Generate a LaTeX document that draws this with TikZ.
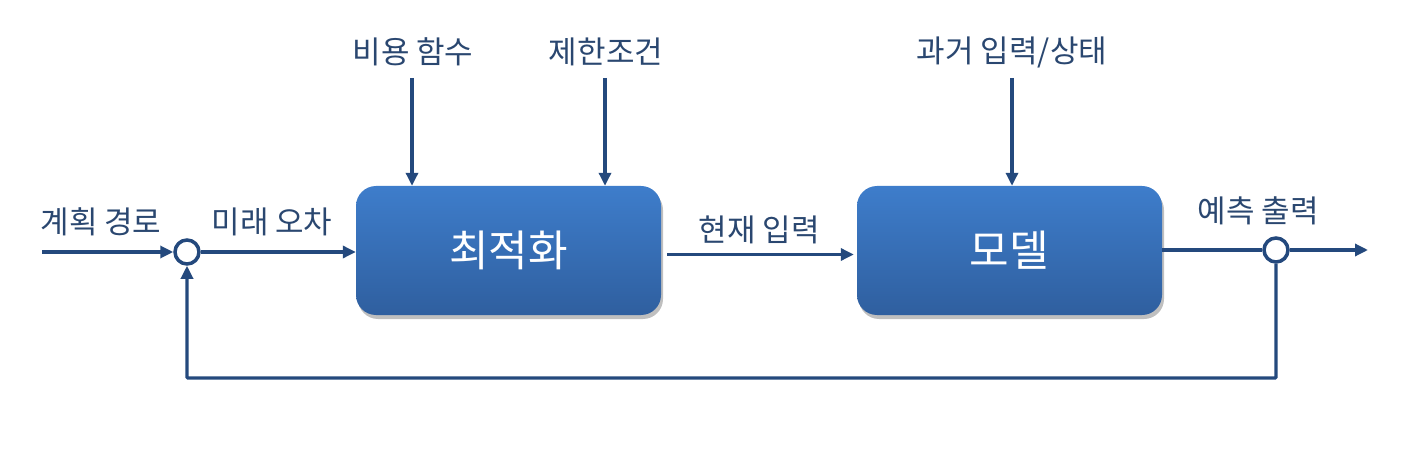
\documentclass[tikz,border=0pt]{standalone}
\usepackage{fontspec}
\setmainfont{Noto Sans CJK KR}
\usetikzlibrary{arrows.meta,shadows,calc}
\definecolor{linec}{HTML}{24497D}
\definecolor{txtc}{HTML}{2A4770}
\definecolor{boxtop}{HTML}{3E7DCB}
\definecolor{boxbot}{HTML}{2F5F9F}
\tikzset{
  blk/.style={draw=none, rounded corners=20pt, minimum width=305pt, minimum height=129pt,
    top color=boxtop, bottom color=boxbot, text=white, font=\fontsize{43}{48}\selectfont,
    drop shadow={shadow xshift=2pt, shadow yshift=-4pt, opacity=0.25, fill=black}},
  lbl/.style={text=txtc, font=\fontsize{31}{36}\selectfont, inner sep=0pt},
  sumj/.style={circle, draw=linec, line width=3.5pt, fill=white, minimum size=24pt, inner sep=0pt},
  conn/.style={draw=linec, line width=3.2pt},
  arr/.style={conn, -{Triangle[length=13pt,width=12pt]}},
}
\begin{document}
\begin{tikzpicture}[x=1pt,y=-1pt]
\useasboundingbox (0,0) rectangle (1418,454);
\node[blk] (opt) at (508.5,250.5) {최적화};
\node[blk] (mdl) at (1009.5,250.5) {모델};
\node[sumj] (s1) at (187,252) {};
\node[sumj] (s2) at (1276,250) {};
\coordinate (in) at (42,252);
\coordinate (out) at (1368,250);
\coordinate (fbR) at (1276,378);
\coordinate (fbL) at (187,378);
\node[lbl] (lcost) at (413,52) {비용 함수};
\node[lbl] (lcons) at (606,52) {제한조건};
\node[lbl] (lpast) at (1012,52) {과거 입력/상태};
\node[lbl] (lplan) at (101,222) {계획 경로};
\node[lbl] (lerr) at (272,222) {미래 오차};
\node[lbl] (lcur) at (759,230) {현재 입력};
\node[lbl] (lpred) at (1258,211) {예측 출력};
\coordinate (c1) at (412,78);
\coordinate (c2) at (605,78);
\coordinate (c3) at (1012,78);
\draw[arr] (in) -- (s1.west);
\draw[arr] (s1.east) -- (opt.west |- s1);
\draw[arr] ($(opt.east)+(6,4)$) -- ($(mdl.west)+(-3,4)$);
\draw[conn] (mdl.east |- s2) -- (s2.west);
\draw[arr] (s2.east) -- (out);
\draw[arr] (c1) -- (c1 |- opt.north);
\draw[arr] (c2) -- (c2 |- opt.north);
\draw[arr] (c3) -- (c3 |- mdl.north);
\draw[arr, rounded corners=1pt] (s2.south) -- (fbR) -- (fbL) -- (s1.south);
\end{tikzpicture}
\end{document}
